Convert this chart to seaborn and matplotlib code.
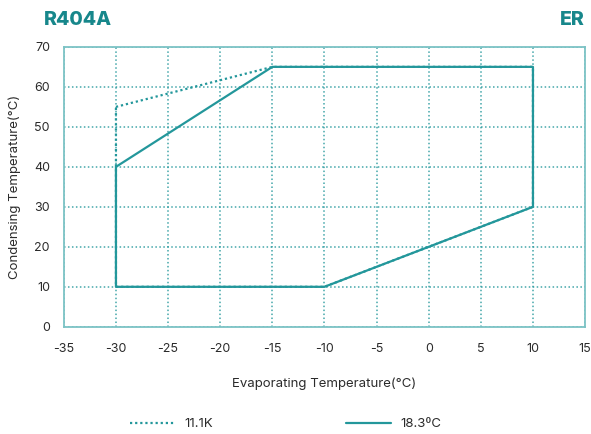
import matplotlib
matplotlib.use("Agg")
import matplotlib.pyplot as plt
from matplotlib.lines import Line2D
import seaborn as sns
import pandas as pd

# Operating envelope, R404A
evap_111k = [-30, -15, 10, 10, -10, -30, -30]
cond_111k = [55, 65, 65, 30, 10, 10, 55]
evap_183c = [-30, -15, 10, 10, -10, -30, -30]
cond_183c = [40, 65, 65, 30, 10, 10, 40]

x_ticks = [-35, -30, -25, -20, -15, -10, -5, 0, 5, 10, 15]
y_ticks = [0, 10, 20, 30, 40, 50, 60, 70]
series_labels = ["11.1K", "18.3\u00baC"]

TEAL = "#23979b"
DARK_TEAL = "#17878b"
TEXT = "#2b2b2b"
DOTTED = (0, (1, 1.3))

sns.set_theme(style="white")
plt.rcParams["font.family"] = ["Inter", "DejaVu Sans"]

fig = plt.figure(figsize=(5.91, 4.34), dpi=100)
ax = fig.add_axes([0.108, 0.247, 0.882, 0.645])

df_a = pd.DataFrame({"evap": evap_111k, "cond": cond_111k})
df_b = pd.DataFrame({"evap": evap_183c, "cond": cond_183c})

sns.lineplot(data=df_a, x="evap", y="cond", sort=False, estimator=None, ax=ax,
             color=TEAL, lw=1.6, linestyle=DOTTED)
sns.lineplot(data=df_b, x="evap", y="cond", sort=False, estimator=None, ax=ax,
             color=TEAL, lw=1.6)

ax.set_xlim(-35, 15)
ax.set_ylim(0, 70)
ax.set_xticks(x_ticks)
ax.set_yticks(y_ticks)
ax.set_xticklabels([str(v) for v in x_ticks], fontsize=9, color=TEXT)
ax.set_yticklabels([str(v) for v in y_ticks], fontsize=9, color=TEXT)
ax.tick_params(axis="x", length=0, pad=12)
ax.tick_params(axis="y", length=0, pad=10)

ax.grid(True, color=TEAL, linestyle=(0, (1, 1.6)), lw=1.1, alpha=0.85)
ax.set_axisbelow(True)
for s in ax.spines.values():
    s.set_color("#7cc3c5")
    s.set_linewidth(1.3)

ax.set_xlabel("Evaporating Temperature(\u00b0C)", fontsize=9.5, color=TEXT, labelpad=16)
ax.set_ylabel("Condensing Temperature(\u00b0C)", fontsize=9.5, color=TEXT, labelpad=9)

fig.text(0.075, 0.955, "R404A", fontsize=14, fontweight="heavy", color=DARK_TEAL,
         ha="left", va="center")
fig.text(0.99, 0.955, "ER", fontsize=14, fontweight="heavy", color=DARK_TEAL,
         ha="right", va="center")

# two separate legend entries, spaced apart under the x label
styles = [DOTTED, "-"]
anchors = [0.220, 0.585]
for lbl, ls, xa in zip(series_labels, styles, anchors):
    h = Line2D([], [], color=TEAL, lw=1.6, linestyle=ls)
    fig.legend([h], [lbl], loc="center left", bbox_to_anchor=(xa, 0.023),
               frameon=False, fontsize=9.5, handlelength=3.4, handletextpad=0.75,
               borderpad=0, borderaxespad=0, labelcolor=TEXT)

fig.savefig("out.png", dpi=100)
